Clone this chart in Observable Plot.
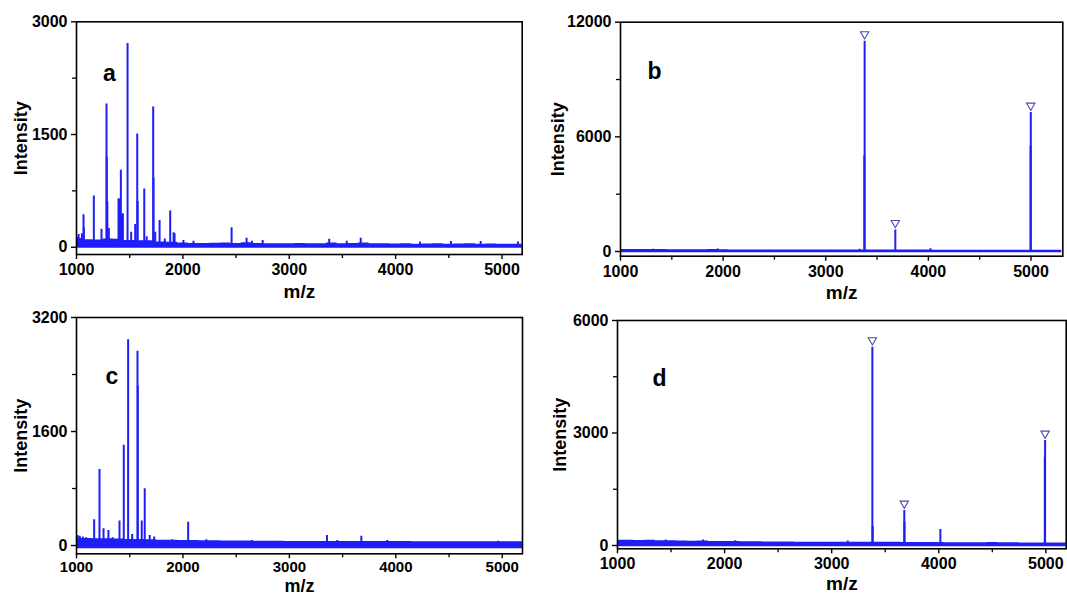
<!DOCTYPE html>
<html><head><meta charset="utf-8">
<script src="https://cdn.jsdelivr.net/npm/d3@7"></script>
<script src="https://cdn.jsdelivr.net/npm/@observablehq/plot@0.6"></script>
<style>
body{margin:0;background:#fff;}
#wrap{position:relative;width:1067px;height:595px;overflow:hidden;background:#fff;}
.panel{position:absolute;}
.panel svg{max-width:none !important;}
</style></head><body><div id="wrap"></div>
<script>
// ---- shared axis data ----
const mzTicks = [1000, 2000, 3000, 4000, 5000];
const mzMinorTicks = [1500, 2500, 3500, 4500];
const noiseMz = [1000,1100,1200,1300,1400,1500,1600,1700,1800,1900,2000,2100,2200,2300,2400,2500,2600,2700,2800,2900,3000,3100,3200,3300,3400,3500,3600,3700,3800,3900,4000,4100,4200,4300,4400,4500,4600,4700,4800,4900,5000,5100,5200,5300];

// ---- panel a ----
const peaksA_mz  = [1008,1020,1034,1051,1066,1069,1100,1163,1235,1282,1285,1290,1304,1395,1401,1408,1417,1422,1436,1480,1514,1552,1571,1575,1637,1660,1721,1724,1740,1781,1830,1881,1913,1922,2005,2100,2458,2599,2650,2750,3376,3540,3672,4230,4520,4800,5150];
const peaksA_int = [130,170,110,178,431,260,90,683,239,1906,1196,600,250,640,643,560,1024,420,444,2712,200,302,1507,607,776,140,1866,922,200,355,110,483,191,180,90,80,258,119,80,90,106,80,120,70,75,75,70];
const noiseTopA = [115,100,95,110,105,90,85,85,70,65,55,50,48,52,55,50,58,50,46,47,45,50,46,45,55,46,50,56,46,45,42,46,40,42,45,40,42,46,40,42,40,40,40,40];
const noiseFloorA = -15;
const yTicksA = [0, 1500, 3000];
const yMinorA = [750, 2250];

// ---- panel b ----
const peaksB_mz  = [1320,1950,3330,3376,3379,3678,4020,4996,4998];
const peaksB_int = [120,130,120,5009,11006,1130,150,5496,7270];
const markedB_mz = [3379, 3678, 4998];
const noiseTopB = [110,105,100,105,100,95,95,90,90,100,90,85,85,80,80,85,80,80,78,78,75,75,75,75,75,75,75,72,72,72,72,70,70,70,70,70,70,68,68,68,68,68,68,68];
const noiseFloorB = -65;
const yTicksB = [0, 6000, 12000];
const yMinorB = [3000, 9000];

// ---- panel c ----
const peaksC_mz  = [1010,1030,1060,1090,1166,1216,1254,1300,1340,1404,1444,1485,1523,1573,1576,1613,1641,1688,1730,1900,2049,2220,2650,3353,3450,3676,3920,4960];
const peaksC_int = [140,130,120,110,361,1067,234,211,110,346,1408,2887,154,2727,2236,346,796,140,120,80,327,80,70,140,70,130,70,60];
const noiseTopC = [105,100,95,95,90,85,85,80,75,75,72,70,68,66,65,62,62,60,60,60,58,58,58,58,58,56,56,56,55,55,55,55,54,54,54,54,54,52,52,52,52,52,52,52];
const noiseFloorC = -45;
const yTicksC = [0, 1600, 3200];
const yMinorC = [800, 2400];

// ---- panel d ----
const peaksD_mz  = [1450,1800,2100,3150,3380,3383,3678,3680,4015,4990,4993];
const peaksD_int = [150,150,130,120,5288,510,933,622,427,2356,2800];
const markedD_mz = [3380, 3678, 4993];
const noiseTopD = [140,140,135,140,130,125,120,115,120,110,105,110,100,100,95,95,95,90,90,90,90,90,90,90,85,85,85,80,80,80,80,75,75,75,75,80,75,75,70,70,70,70,70,70];
const noiseFloorD = -35;
const yTicksD = [0, 3000, 6000];
const yMinorD = [1500, 4500];

const BLUE = "#1e1ef8";
const MARK = "#4b4ba8";
const FONT = "'Liberation Sans', Arial, Helvetica, sans-serif";

function makePanel(cfg) {
  const peaks = cfg.peaksMz.map((mz, i) => ({mz, int: cfg.peaksInt[i]}));
  const noise = noiseMz.map((mz, i) => ({mz, hi: cfg.noiseTop[i], lo: cfg.noiseFloor}));
  const marked = peaks.filter(p => (cfg.marked || []).includes(p.mz));
  const xFs = cfg.xTickFont || 16;
  const chart = Plot.plot({
    width: cfg.w, height: cfg.h,
    marginLeft: cfg.m[0], marginRight: cfg.m[1], marginTop: cfg.m[2], marginBottom: cfg.m[3],
    x: {domain: cfg.xDomain},
    y: {domain: cfg.yDomain},
    style: {fontFamily: FONT, fontSize: "16px", fontWeight: "bold", color: "black", background: "white", overflow: "visible"},
    marks: [
      Plot.areaY(noise, {x: "mz", y1: "lo", y2: "hi", fill: BLUE, curve: "step", clip: true}),
      Plot.ruleX(peaks, {x: "mz", y1: 0, y2: "int", stroke: BLUE, strokeWidth: 2, clip: true}),
      Plot.dot(marked, {x: "mz", y: "int", symbol: "triangle", rotate: 180, r: 3.1, stroke: MARK, fill: "white", strokeWidth: 1.1, dy: -7}),
      Plot.frame({stroke: "black", strokeWidth: 1.6}),
      Plot.axisX({ticks: mzTicks, tickSize: 5, tickPadding: cfg.xTickPad || 4, tickFormat: d3.format("d"), label: null, fontSize: xFs, fontWeight: "bold", strokeWidth: 1.4}),
      Plot.axisX({ticks: mzMinorTicks, tickSize: 4, tickFormat: () => "", label: null, strokeWidth: 1.3}),
      Plot.axisY({ticks: cfg.yTicks, tickSize: 5, tickPadding: 4, tickFormat: d3.format("d"), label: null, fontSize: 16, fontWeight: "bold", strokeWidth: 1.4}),
      Plot.axisY({ticks: cfg.yMinor, tickSize: 4, tickFormat: () => "", label: null, strokeWidth: 1.3}),
      Plot.text([cfg.letter], {frameAnchor: "top-left", dx: cfg.letterPos[0], dy: cfg.letterPos[1], textAnchor: "middle", lineAnchor: "middle", fontSize: 23, fontWeight: "bold", fill: "black"}),
      Plot.text(["Intensity"], {frameAnchor: "left", dx: cfg.yLabelDx, rotate: -90, textAnchor: "middle", lineAnchor: "middle", fontSize: 18, fontWeight: "bold", fill: "black"}),
      Plot.text(["m/z"], {frameAnchor: "bottom", dy: cfg.xLabelDy, textAnchor: "middle", lineAnchor: "middle", fontSize: cfg.xLabelFont || 19, fontWeight: "bold", fill: "black"})
    ]
  });
  const div = document.createElement("div");
  div.className = "panel";
  div.style.left = cfg.left + "px";
  div.style.top = cfg.top + "px";
  div.style.width = cfg.w + "px";
  div.style.height = cfg.h + "px";
  div.appendChild(chart);
  document.getElementById("wrap").appendChild(div);
}

makePanel({left: 0, top: 0, w: 533, h: 300, m: [76, 11.3, 21.3, 46],
  xDomain: [1000, 5190], yDomain: [-97, 3000], yTicks: yTicksA, yMinor: yMinorA,
  peaksMz: peaksA_mz, peaksInt: peaksA_int, noiseTop: noiseTopA, noiseFloor: noiseFloorA,
  letter: "a", letterPos: [33, 52], yLabelDx: -55, xLabelDy: 37});

makePanel({left: 533, top: 0, w: 534, h: 300, m: [87, 4.7, 21.7, 44.3],
  xDomain: [1000, 5310], yDomain: [-246, 12000], yTicks: yTicksB, yMinor: yMinorB,
  peaksMz: peaksB_mz, peaksInt: peaksB_int, noiseTop: noiseTopB, noiseFloor: noiseFloorB, marked: markedB_mz,
  letter: "b", letterPos: [34, 49], yLabelDx: -62, xLabelDy: 37});

makePanel({left: 0, top: 300, w: 533, h: 295, m: [76, 11, 17, 41.7],
  xDomain: [1000, 5190], yDomain: [-116, 3200], yTicks: yTicksC, yMinor: yMinorC,
  peaksMz: peaksC_mz, peaksInt: peaksC_int, noiseTop: noiseTopC, noiseFloor: noiseFloorC,
  letter: "c", letterPos: [35.5, 59], yLabelDx: -55, xLabelDy: 32, xTickFont: 15, xTickPad: 3, xLabelFont: 18});

makePanel({left: 533, top: 300, w: 534, h: 295, m: [84, 1.3, 20, 46.7],
  xDomain: [1000, 5190], yDomain: [-88, 6000], yTicks: yTicksD, yMinor: yMinorD,
  peaksMz: peaksD_mz, peaksInt: peaksD_int, noiseTop: noiseTopD, noiseFloor: noiseFloorD, marked: markedD_mz,
  letter: "d", letterPos: [42, 58], yLabelDx: -57, xLabelDy: 35});
</script>
</body></html>
